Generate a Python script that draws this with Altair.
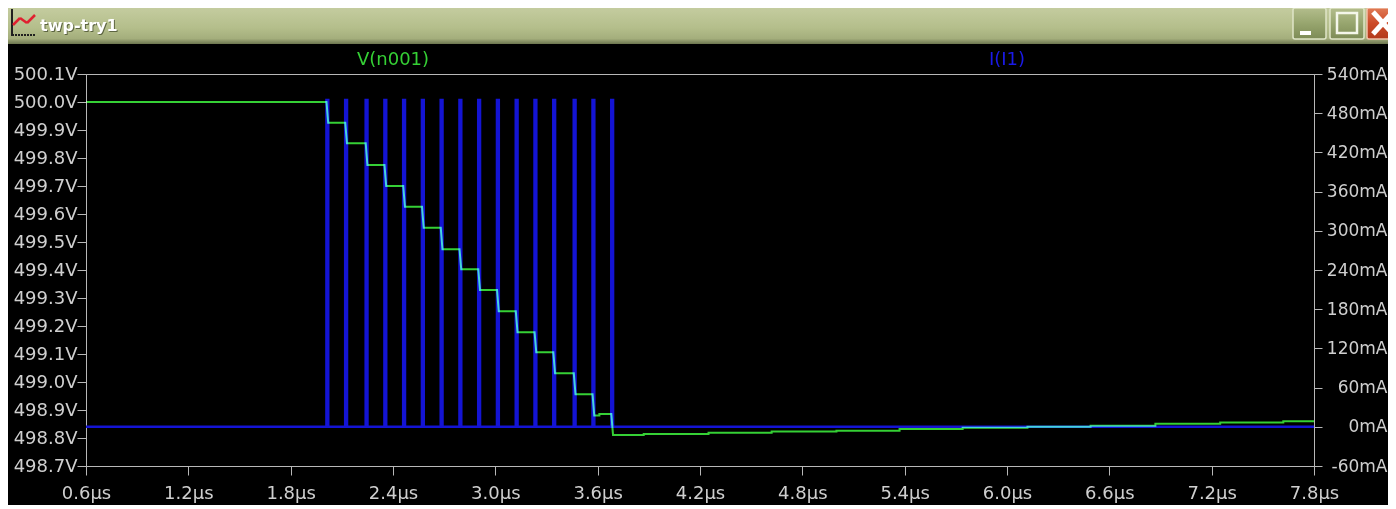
import altair as alt
import pandas as pd

# ---------------- data ----------------
x_ticks = [0.6, 1.2, 1.8, 2.4, 3.0, 3.6, 4.2, 4.8, 5.4, 6.0, 6.6, 7.2, 7.8]   # µs
v_ticks = [498.7, 498.8, 498.9, 499.0, 499.1, 499.2, 499.3, 499.4,
           499.5, 499.6, 499.7, 499.8, 499.9, 500.0, 500.1]                    # V
i_ticks = [-60, 0, 60, 120, 180, 240, 300, 360, 420, 480, 540]                # mA

# I(I1): narrow current pulses
pulse_start = [2.01, 2.12, 2.24, 2.35, 2.46, 2.57, 2.68, 2.79,
               2.90, 3.01, 3.12, 3.23, 3.34, 3.46, 3.57, 3.68]
pulse_width = 0.01
pulse_amp = 500.0
i_base = 0.0

# V(n001): staircase discharge then slow recovery
v_initial = 500.0
v_after_pulse = [499.926, 499.853, 499.775, 499.700, 499.626, 499.551, 499.474, 499.403,
                 499.329, 499.253, 499.178, 499.106, 499.031, 498.956, 498.880, 498.811]
v_bump_time = 3.61
v_bump_volt = 498.886
v_tail_time = [3.87, 4.25, 4.62, 5.00, 5.37, 5.74, 6.12, 6.49, 6.87, 7.25, 7.62, 7.80]
v_tail_volt = [498.814, 498.819, 498.823, 498.826, 498.832, 498.837,
               498.840, 498.844, 498.851, 498.855, 498.860, 498.860]

trace_names = ["V(n001)", "I(I1)"]
trace_name_pos = [2.4, 6.0]
window_title = "twp-try1"

# ---------------- build series tables ----------------
vt, vv = [0.6], [v_initial]
prev = v_initial
for k, (t, lvl) in enumerate(zip(pulse_start, v_after_pulse)):
    if k > 0 and pulse_start[k - 1] < v_bump_time < t:
        vt += [v_bump_time, v_bump_time]
        vv += [prev, v_bump_volt]
        prev = v_bump_volt
    vt += [t, t + pulse_width]
    vv += [prev, lvl]
    prev = lvl
for t, v in zip(v_tail_time, v_tail_volt):
    vt += [t, t]
    vv += [prev, v]
    prev = v
df_v = pd.DataFrame({"t": vt, "v": vv, "idx": range(len(vt))})

it, iv = [0.6], [i_base]
for t in pulse_start:
    it += [t, t, t + pulse_width, t + pulse_width]
    iv += [i_base, pulse_amp, pulse_amp, i_base]
it.append(7.8)
iv.append(i_base)
df_i = pd.DataFrame({"t": it, "i": iv, "idx": range(len(it))})

df_names = pd.DataFrame({"t": trace_name_pos, "name": trace_names})
one = pd.DataFrame({"k": [0]})

# ---------------- styling ----------------
W, H = 1228, 392
PAD_R = 74
FONT = "DejaVu Sans"
GREEN = "#35d035"
BLUE = "#1414d4"
AXC = "#b8b8b8"
LBL = "#cfcfcf"

x_scale = alt.Scale(domain=[0.6, 7.8], nice=False, zero=False)
x_axis = alt.Axis(values=x_ticks, labelExpr="format(datum.value, '.1f') + 'µs'",
                  title=None, orient="bottom", tickSize=9, labelPadding=9,
                  labelFlush=False, labelOverlap=False, grid=False)

v_axis = alt.Axis(values=v_ticks, labelExpr="format(datum.value, '.1f') + 'V'",
                  title=None, orient="left", tickSize=9, labelPadding=0,
                  labelOverlap=False, labelFlush=False, grid=False)
i_axis = alt.Axis(values=i_ticks, labelExpr="datum.value + 'mA'",
                  title=None, orient="right", tickSize=8, labelPadding=65,
                  labelFontSize=17, labelAlign="right",
                  labelOverlap=False, labelFlush=False, grid=False)


def rect(x, x2, y, y2, **kw):
    return alt.Chart(one).mark_rect(**kw).encode(
        x=alt.value(x), x2=alt.value(x2), y=alt.value(y), y2=alt.value(y2))


def seg(x, y, x2, y2, **kw):
    return alt.Chart(one).mark_rule(**kw).encode(
        x=alt.value(x), x2=alt.value(x2), y=alt.value(y), y2=alt.value(y2))


def grad(stops):
    return alt.LinearGradient(
        gradient="linear", x1=0, x2=0, y1=0, y2=1,
        stops=[alt.GradientStop(color=c, offset=o) for o, c in stops])


# window chrome (title bar and buttons), relative to plot origin
title_bar = rect(-78, W + PAD_R, -66, -30,
                 color=grad([(0, "#c4cc9f"), (0.55, "#b4be8b"), (0.85, "#a4ae7c"), (1, "#6d7650")]))
title_shadow = alt.Chart(one).mark_text(
    text=window_title, font=FONT, fontSize=16, fontWeight="bold", color="#5d6542",
    align="left", baseline="alphabetic").encode(x=alt.value(-45), y=alt.value(-42))
title_text = alt.Chart(one).mark_text(
    text=window_title, font=FONT, fontSize=16, fontWeight="bold", color="#ffffff",
    align="left", baseline="alphabetic").encode(x=alt.value(-46), y=alt.value(-43))

icon = [
    seg(-74, -65, -74, -38, color="#202020", strokeWidth=2),
    seg(-74, -39, -50, -39, color="#202020", strokeWidth=2, strokeDash=[2, 1]),
    seg(-73, -49, -66, -56, color="#e02030", strokeWidth=2.5),
    seg(-66, -56, -59, -51, color="#e02030", strokeWidth=2.5),
    seg(-59, -51, -51, -59, color="#e02030", strokeWidth=2.5),
]

btn_fill = grad([(0, "#b3bd8c"), (0.5, "#97a56e"), (1, "#7d8b56")])
buttons = [
    rect(1207, 1240, -66, -35, color=btn_fill, stroke="#dfe5c8", strokeWidth=1.5, cornerRadius=2),
    rect(1214, 1225, -43, -39, color="#ffffff"),
    rect(1244, 1278, -66, -35, color=btn_fill, stroke="#dfe5c8", strokeWidth=1.5, cornerRadius=2),
    rect(1251, 1271, -61, -41, filled=False, stroke="#f4f6ea", strokeWidth=2.5),
    rect(1281, 1312, -66, -35,
         color=grad([(0, "#e07a55"), (0.5, "#cc4a28"), (1, "#b23a1c")]),
         stroke="#f0c0a8", strokeWidth=1.5, cornerRadius=2),
    seg(1287, -62, 1307, -40, color="#ffffff", strokeWidth=5),
    seg(1307, -62, 1287, -40, color="#ffffff", strokeWidth=5),
]

# ---------------- traces ----------------
blue = alt.Chart(df_i).mark_line(color=BLUE, strokeWidth=2.6).encode(
    x=alt.X("t:Q", scale=x_scale, axis=x_axis),
    y=alt.Y("i:Q", scale=alt.Scale(domain=[-60, 540], nice=False, zero=False), axis=i_axis),
    order="idx:Q",
)

green = alt.Chart(df_v).mark_line(color=GREEN, strokeWidth=2, blend="screen").encode(
    x=alt.X("t:Q", scale=x_scale, axis=x_axis),
    y=alt.Y("v:Q", scale=alt.Scale(domain=[498.7, 500.1], nice=False, zero=False), axis=v_axis),
    order="idx:Q",
)

names = alt.Chart(df_names).mark_text(font=FONT, fontSize=18, baseline="middle", align="center").encode(
    x=alt.X("t:Q", scale=x_scale, axis=x_axis),
    y=alt.value(-14),
    text="name:N",
    color=alt.Color("name:N", scale=alt.Scale(domain=trace_names, range=[GREEN, "#1a1ae8"]), legend=None),
)

chart = alt.layer(
    title_bar, title_shadow, title_text, *icon, *buttons,
    blue, green, names,
).resolve_scale(y="independent").properties(
    width=W, height=H,
    autosize=alt.AutoSizeParams(type="none"),
    padding={"left": 78, "top": 66, "right": PAD_R, "bottom": 39},
    background="#000000",
).configure_view(
    stroke=AXC, strokeWidth=1,
).configure_axis(
    labelFont=FONT, labelFontSize=18, labelColor=LBL,
    domainColor=AXC, tickColor=AXC, domainWidth=1, tickWidth=1,
)

chart.save("out.html", embed_options={"renderer": "svg", "actions": False})
